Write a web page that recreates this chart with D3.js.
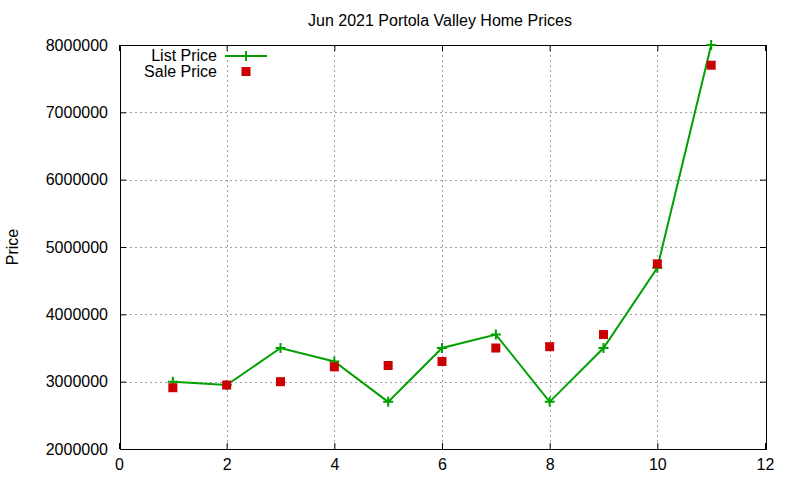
<!DOCTYPE html>
<html><head><meta charset="utf-8">
<script src="https://cdn.jsdelivr.net/npm/d3@7"></script>
<style>body{margin:0;background:#fff}svg{display:block}text{font-family:"Liberation Sans",Arial,sans-serif;fill:#000}</style>
</head><body><svg id="c" width="800" height="480"></svg>
<script>
const months = [1,2,3,4,5,6,7,8,9,10,11];
const listPrice = [3000000,2950000,3500000,3300000,2700000,3500000,3700000,2700000,3500000,4690000,8000000];
const salePrice = [2910000,2950000,3000000,3220000,3240000,3300000,3500000,3520000,3700000,4750000,7700000];
const xTicks = [0,2,4,6,8,10,12];
const yTicks = [2000000,3000000,4000000,5000000,6000000,7000000,8000000];
const title = "Jun 2021 Portola Valley Home Prices";
const yLabel = "Price";
const seriesNames = ["List Price","Sale Price"];

const svg = d3.select("#c");
const L=120,R=766,T=45,B=449;
const x = d3.scaleLinear().domain([0,12]).range([L,R]);
const y = d3.scaleLinear().domain([2000000,8000000]).range([B,T]);
const green="#00a000", red="#cc0000", fs=16;

// grid
const g = svg.append("g");
g.selectAll(".gx").data(xTicks.slice(1,-1)).join("line")
 .attr("x1",d=>Math.round(x(d))-0.5).attr("x2",d=>Math.round(x(d))-0.5).attr("y1",T).attr("y2",B)
 .attr("stroke","#a0a0a0").attr("stroke-dasharray","2,3");
g.selectAll(".gy").data(yTicks.slice(1,-1)).join("line")
 .attr("y1",d=>Math.round(y(d))+0.5).attr("y2",d=>Math.round(y(d))+0.5).attr("x1",L).attr("x2",R)
 .attr("stroke","#a0a0a0").attr("stroke-dasharray","2,3");

// axes with inward ticks
const ax = d3.axisBottom(x).tickValues(xTicks).tickSize(-6).tickPadding(10).tickFormat(d3.format("d"));
const axT = d3.axisTop(x).tickValues(xTicks).tickSize(-6).tickFormat("");
const ay = d3.axisLeft(y).tickValues(yTicks).tickSize(-6).tickPadding(12).tickFormat(d3.format("d"));
const ayR = d3.axisRight(y).tickValues(yTicks).tickSize(-6).tickFormat("");
function style(s){s.selectAll("path").remove();s.selectAll("line").attr("stroke","#000");s.selectAll("text").style("font-size",fs+"px").attr("fill","#000");}
svg.append("g").attr("transform",`translate(-1,${B})`).call(ax).call(style);
svg.append("g").attr("transform",`translate(-1,${T})`).call(axT).call(style);
svg.append("g").attr("transform",`translate(${L},0)`).call(ay).call(style);
svg.append("g").attr("transform",`translate(${R},0)`).call(ayR).call(style);
svg.append("rect").attr("x",L+0.5).attr("y",T+0.5).attr("width",R-L).attr("height",B-T)
 .attr("fill","none").attr("stroke","#000");

// list line
svg.append("path").datum(months.map((m,i)=>[m,listPrice[i]]))
 .attr("d",d3.line().x(d=>x(d[0])-1).y(d=>y(d[1])))
 .attr("fill","none").attr("stroke",green).attr("stroke-width",2);
const plus = (sel,s)=>sel.append("path").attr("d",`M${-s},0H${s}M0,${-s}V${s}`).attr("stroke",green).attr("stroke-width",2);
months.forEach((m,i)=>{ plus(svg.append("g").attr("transform",`translate(${x(m)-1},${y(listPrice[i])})`),5); });
// sale squares
svg.selectAll(".sq").data(months).join("rect")
 .attr("x",(d)=>x(d)-5.5).attr("y",(d,i)=>y(salePrice[i])-4.5).attr("width",9).attr("height",9).attr("fill",red);

// title & labels
svg.append("text").attr("x",440).attr("y",26).attr("text-anchor","middle").style("font-size",fs+"px").text(title);
svg.append("text").attr("transform","translate(18,247) rotate(-90)").attr("text-anchor","middle").style("font-size",fs+"px").text(yLabel);

// legend
svg.append("text").attr("x",217).attr("y",61).attr("text-anchor","end").style("font-size",fs+"px").text(seriesNames[0]);
svg.append("line").attr("x1",225).attr("x2",267).attr("y1",56).attr("y2",56).attr("stroke",green).attr("stroke-width",2);
plus(svg.append("g").attr("transform","translate(246,56)"),5);
svg.append("text").attr("x",217).attr("y",77).attr("text-anchor","end").style("font-size",fs+"px").text(seriesNames[1]);
svg.append("rect").attr("x",241.5).attr("y",67).attr("width",9).attr("height",9).attr("fill",red);
</script></body></html>
